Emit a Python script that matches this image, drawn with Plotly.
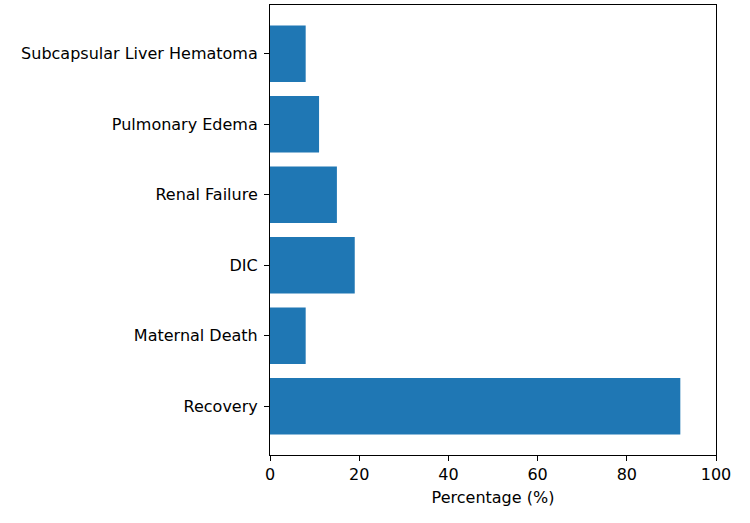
import plotly.graph_objects as go

categories = ["Recovery", "Maternal Death", "DIC", "Renal Failure",
              "Pulmonary Edema", "Subcapsular Liver Hematoma"]
values = [92, 8, 19, 15, 11, 8]
x_ticks = [0, 20, 40, 60, 80, 100]

fig = go.Figure(go.Bar(
    y=list(range(len(categories))), x=values, orientation="h",
    width=0.8, marker=dict(color="#1f77b4", line=dict(width=0)),
))

axis_common = dict(showline=True, linecolor="black", linewidth=1.1, mirror=True,
                   ticks="outside", ticklen=5, tickwidth=1.1, tickcolor="black",
                   showgrid=False, zeroline=False,
                   tickfont=dict(family="DejaVu Sans", size=16, color="black"))

fig.update_layout(
    width=750, height=523,
    margin=dict(l=270, r=34, t=5, b=68),
    paper_bgcolor="white", plot_bgcolor="white",
    font=dict(family="DejaVu Sans", size=16, color="black"),
    showlegend=False,
    xaxis=dict(range=[0, 100], tickvals=x_ticks, ticktext=[str(t) for t in x_ticks],
               title=dict(text="Percentage (%)", font=dict(size=16), standoff=8),
               **axis_common),
    yaxis=dict(range=[-0.69, 5.69], tickvals=list(range(len(categories))),
               ticktext=categories, ticklabelstandoff=3, **axis_common),
)

fig.write_html("out.html")
